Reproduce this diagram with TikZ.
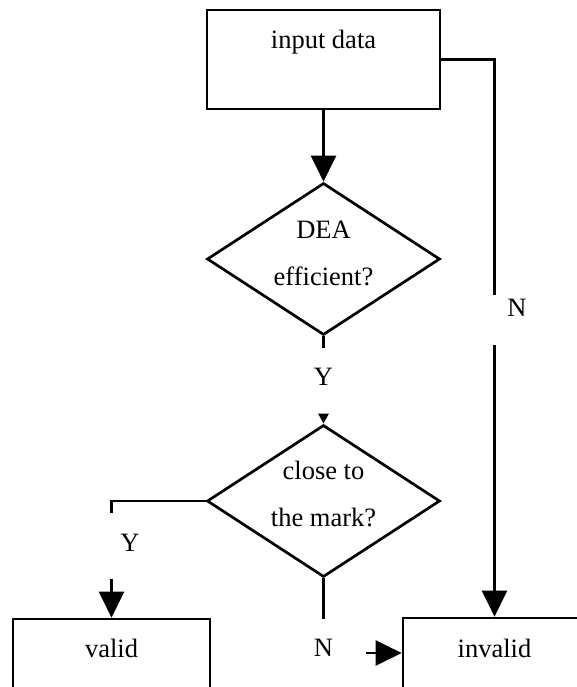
\documentclass[tikz,border=0pt]{standalone}
\usepackage{fontspec}
\setmainfont{Liberation Serif}
\usepackage{tikz}
\usetikzlibrary{shapes.geometric, arrows.meta, calc}
\tikzstyle{box} = [rectangle, draw=black, line width=2.7pt, inner sep=0pt, minimum width=233pt, minimum height=99pt]
\tikzstyle{decide} = [diamond, draw=black, line width=2.7pt, inner sep=0pt, minimum width=233pt, minimum height=152pt]
\tikzstyle{txt} = [font=\fontsize{26.5pt}{47pt}\selectfont, align=center, inner sep=0pt]
\tikzstyle{line} = [line width=2.7pt]
\tikzstyle{arr} = [-{Triangle[length=26pt, width=25pt]}, line width=2.7pt]
\tikzstyle{arrsmall} = [-{Triangle[length=10pt, width=10pt]}, line width=2.7pt]

\begin{document}
\begin{tikzpicture}[x=1pt, y=-1pt]
  \useasboundingbox (0,0) rectangle (577,687);
  \clip (0,0) rectangle (577,687);
  % ---------- blocks (explicit layout) ----------
  \node[box] (input) at (323.5, 59.5) {};
  \node[txt] (inputtxt) at ([yshift=17.5pt]input.center) {input data};
  \node[decide] (dea) at (323.5, 259) {};
  \node[txt] (deatxt) at ([yshift=5.5pt]dea.center) {DEA\\efficient?};
  \node[decide] (close) at (323.5, 501) {};
  \node[txt] (closetxt) at ([yshift=7.5pt]close.center) {close to\\the mark?};
  \node[box, minimum width=197pt] (valid) at (111.5, 668.5) {};
  \node[txt] (validtxt) at ([yshift=20.5pt]valid.center) {valid};
  \node[box, minimum width=183pt] (invalid) at (494.5, 667.5) {};
  \node[txt] (invalidtxt) at ([yshift=19.5pt]invalid.center) {invalid};
  % ---------- branch labels ----------
  \node[txt] (nright) at (517, 308) {N};
  \node[txt] (yfirst) at (323.5, 377) {Y};
  \node[txt] (yleft)  at (130, 543) {Y};
  \node[txt] (nlow)   at (323.5, 648) {N};
  % connector break points
  \coordinate (a1) at (494.5, 295);
  \coordinate (a2) at (494.5, 345);
  \coordinate (b1) at (323.5, 348);
  \coordinate (b2) at (323.5, 414);
  \coordinate (c1) at (111.5, 513);
  \coordinate (c2) at (111.5, 579);
  \coordinate (d1) at (323.5, 619);
  \coordinate (d2) at (366, 653);
  % ---------- edges ----------
  \draw[arr] (input.south) -- (dea.north);
  \draw[line] (input.east) -| (a1);
  \draw[arr] (a2) -- (invalid.north);
  \draw[line] (dea.south) -- (b1);
  \draw[arrsmall] (b2) -- (close.north);
  \draw[line] (close.west) -| (c1);
  \draw[arr] (c2) -- (valid.north);
  \draw[line] (close.south) -- (d1);
  \draw[arr] (d2) -- (d2 -| invalid.west);
\end{tikzpicture}
\end{document}
